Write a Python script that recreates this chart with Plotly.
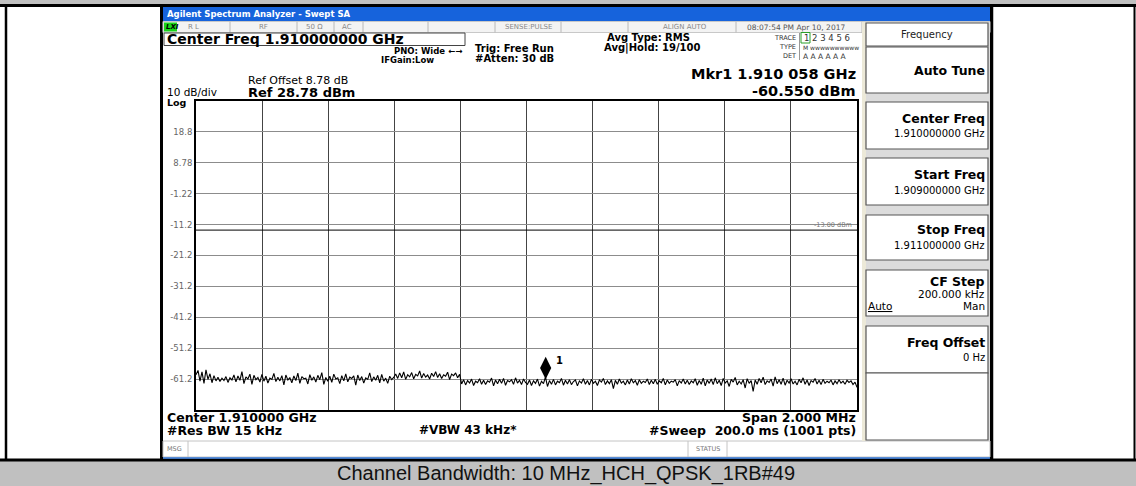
import numpy as np
import plotly.graph_objects as go

W, H = 1136, 486

# ---------------- data ----------------
start_ghz = 1.909
stop_ghz = 1.911
ref_level = 28.78
db_per_div = 10
n_div = 10
limit_dbm = -13.0
mkr_freq = 1.910058
mkr_level = -60.55

ytick_vals = [18.78, 8.78, -1.22, -11.22, -21.22, -31.22, -41.22, -51.22, -61.22]
ytick_text = ["18.8", "8.78", "-1.22", "-11.2", "-21.2", "-31.2", "-41.2", "-51.2", "-61.2"]

trace_seg_a = [-59.8, -58.4, -61.9, -58.9, -62.6, -58.2, -61.3, -59.5, -62.4, -60.1,
               -61.8, -60.6, -62.0, -60.9, -61.7, -60.4, -62.3, -60.8, -61.5, -59.9,
               -62.1, -60.2, -61.6, -58.8, -62.7, -60.5, -61.2, -59.6, -62.9, -60.0,
               -61.4, -60.7, -62.2, -59.7, -61.9, -60.3, -62.5, -60.9, -61.3, -59.4,
               -62.0, -60.6, -61.8, -60.1, -63.1, -59.9, -61.5, -60.8, -62.4, -60.2,
               -61.7, -59.3, -62.6, -60.4, -61.1, -60.9, -62.8, -59.8, -61.6, -60.5,
               -62.2, -60.0, -61.4, -59.1, -62.9, -60.7, -61.9, -60.3, -62.3, -59.6,
               -61.2, -60.8, -62.7, -60.1, -61.8, -59.5, -62.1, -60.6, -61.0, -60.2,
               -63.2, -59.9, -61.7, -60.4, -62.5, -60.8, -61.3, -59.2, -62.0, -60.5,
               -61.6, -60.0, -62.4, -59.7, -61.9, -60.9, -62.6, -60.3, -61.4, -60.7]
trace_seg_b1 = [-59.6, -61.0, -59.2, -60.8, -58.9, -61.3, -59.8, -60.5, -59.1, -61.1,
                -59.7, -60.2, -58.6, -60.9, -59.4, -60.6, -59.9, -61.2, -59.3, -60.4,
                -58.8, -60.7, -59.5, -61.0, -59.8, -60.3, -59.0, -61.4, -59.6, -60.1,
                -59.2, -60.8, -59.7]
trace_seg_b2 = [-62.8, -61.4, -63.1, -61.7, -62.5, -61.2, -63.3, -61.9, -62.4, -61.1,
                -62.9, -61.6, -63.0, -61.8, -62.2, -60.9, -63.4, -61.5, -62.7, -61.3,
                -62.6, -61.0, -63.2, -61.7, -62.1, -61.4, -62.9, -60.8, -62.5, -61.6,
                -63.0, -61.2, -62.3]
trace_seg_c = [-62.9, -61.5, -63.3, -61.8, -62.6, -61.2, -63.5, -61.9, -62.7, -60.55,
               -63.6, -61.7, -62.9, -61.3, -63.1, -61.9, -62.4, -61.0, -63.2, -61.6,
               -62.8, -61.4, -63.0, -62.0, -61.5, -63.4, -61.8, -62.5, -61.1, -62.9,
               -61.7, -63.1, -61.3, -62.6, -61.9, -63.3, -61.5, -62.2, -61.0, -63.0,
               -61.8, -62.7, -61.4, -64.3, -61.6, -62.9, -61.2, -62.5, -61.9, -63.1,
               -61.5, -62.8, -61.1, -62.4, -61.7, -63.2, -61.4, -62.6, -61.9, -62.3,
               -61.2, -63.0, -61.6, -62.7, -61.3, -62.9, -61.8, -62.4, -61.0, -63.1,
               -61.5, -62.6, -61.9, -62.2, -61.4, -63.4, -61.7, -62.5, -61.2, -62.8,
               -61.6, -63.0, -61.8]
trace_seg_d = [-62.4, -61.1, -63.2, -61.7, -62.9, -60.9, -63.4, -61.5, -62.6, -61.2,
               -63.0, -60.8, -62.7, -61.6, -63.3, -61.0, -62.5, -61.8, -63.6, -61.3,
               -62.2, -60.7, -63.1, -61.9, -62.8, -61.4, -64.1, -61.1, -62.6, -61.7,
               -65.2, -61.5, -62.9, -61.0, -62.4, -60.6, -63.0, -61.8, -62.3, -61.2,
               -63.5, -60.5, -62.7, -61.4, -62.9, -60.9, -63.2, -61.6, -62.5, -61.1,
               -62.8, -61.9, -63.1, -61.3, -62.4, -60.8, -62.9, -61.5, -63.3, -61.7,
               -62.2, -61.0, -62.8, -61.6, -63.0, -61.3, -62.6, -61.9, -62.4, -61.5,
               -63.1, -61.8, -62.7, -61.4, -62.5, -61.9, -62.9, -61.6, -62.3, -61.8,
               -63.0, -62.2, -63.9]

trace_dbm = trace_seg_a + trace_seg_b1 + trace_seg_b2 + trace_seg_c + trace_seg_d
freq_ghz = np.linspace(start_ghz, stop_ghz, len(trace_dbm))

# ---------------- layout helpers ----------------
PX0, PX1 = 196, 857     # graticule pixel box
PY0, PY1 = 101, 410
DB_PER_PX = (db_per_div * n_div) / (PY1 - PY0)


def X(px):
    return px / W


def Y(py):
    return 1 - py / H


shapes = []
annos = []


def rect(x0, y0, x1, y1, fill, line=None, lw=0):
    shapes.append(dict(type="rect", xref="paper", yref="paper",
                       x0=X(x0), x1=X(x1), y0=Y(y0), y1=Y(y1),
                       fillcolor=fill,
                       line=dict(color=line or fill, width=lw)))


def seg(x0, y0, x1, y1, color, width=1):
    shapes.append(dict(type="line", xref="paper", yref="paper",
                       x0=X(x0), x1=X(x1), y0=Y(y0), y1=Y(y1),
                       line=dict(color=color, width=width)))


def txt(x, y, s, size, bold=False, anchor="left", color="#000",
        family="DejaVu Sans"):
    annos.append(dict(xref="paper", yref="paper", x=X(x), y=Y(y),
                      text=f"<b>{s}</b>" if bold else s, showarrow=False,
                      xanchor=anchor, yanchor="middle", borderpad=0,
                      font=dict(family=family, size=size, color=color)))


# outer table frame
rect(0, 0, W, 4.5, "#c0c0c0")
rect(0, 461, W, H, "#c0c0c0")
seg(0, 5.5, W, 5.5, "#000", 3)
seg(0, 460, W, 460, "#000", 3)
seg(6, 5, 6, 460, "#000", 2.5)
seg(161.5, 5, 161.5, 460, "#000", 3)
seg(991.5, 5, 991.5, 460, "#000", 3.5)
seg(1134.5, 5, 1134.5, 460, "#000", 2)

# analyzer title bar
rect(163, 7, 990, 21.5, "#1663dc")
txt(166, 14.5, "Agilent Spectrum Analyzer - Swept SA", 8.5, True, color="#fff")

# status row
rect(163, 21.5, 990, 32.5, "#f3f3f3", "#c8c8c8", 1)
for sx in [230, 297, 334, 363, 428, 495, 561, 628, 736, 862]:
    seg(sx, 21.5, sx, 32.5, "#b8b8b8", 1)
rect(164, 22.5, 177, 31.5, "#19d419")
txt(165, 27, "<i>LXI</i>", 7, True)
for cx, s in [(193, "R L"), (263, "RF"), (314, "50 Ω"), (347, "AC"),
              (528, "SENSE:PULSE"), (685, "ALIGN AUTO")]:
    txt(cx, 27, s, 7, anchor="center", color="#888")
txt(796, 27, "08:07:54 PM Apr 10, 2017", 7.5, anchor="center", color="#555")

# header
rect(164, 33, 465, 45.5, "#fff", "#444", 1)
txt(166, 39.5, "Center Freq 1.910000000 GHz", 14, True)
txt(463, 51, "PNO: Wide ←→", 8.5, True, anchor="right")
txt(380, 60.5, "IFGain:Low", 8.5, True)
txt(474, 48, "Trig: Free Run", 10, True)
txt(474, 59, "#Atten: 30 dB", 10, True)
txt(606, 37.5, "Avg Type: RMS", 10, True)
txt(603, 48, "Avg|Hold: 19/100", 10, True)

# trace table
txt(797, 37.5, "TRACE", 6.5, anchor="right", color="#333")
txt(797, 47, "TYPE", 6.5, anchor="right", color="#333")
txt(797, 56, "DET", 6.5, anchor="right", color="#333")
seg(799.5, 33, 799.5, 60, "#999", 1)
rect(801, 32.5, 810, 43, "#fff", "#2aa02a", 1)
txt(802.5, 38, "1 2 3 4 5 6", 8.5, color="#333")
txt(801.5, 47, "M wwwwwwwwww", 6, color="#333")
txt(802, 56, "A A A A A A", 7.5, color="#333")

txt(857, 74.5, "Mkr1 1.910 058 GHz", 14.5, True, anchor="right")
txt(857, 90.5, "-60.550 dBm", 14.5, True, anchor="right")
txt(247, 81, "Ref Offset 8.78 dB", 11)
txt(247, 93, "Ref 28.78 dBm", 13, True)
txt(166, 92, "10 dB/div", 10.5)
txt(166, 102, "Log", 9.5, True)

# footer of display
txt(166, 417, "Center 1.910000 GHz", 12.5, True)
txt(166, 430, "#Res BW 15 kHz", 12.5, True)
txt(418, 430, "#VBW 43 kHz*", 12, True)
txt(857, 417, "Span 2.000 MHz", 12.5, True, anchor="right")
txt(857, 430, "#Sweep  200.0 ms (1001 pts)", 12.5, True, anchor="right")

# status bar
rect(163, 441, 990, 457, "#fff", "#c4c4c4", 1)
seg(188, 441, 188, 457, "#c4c4c4", 1)
seg(688, 441, 688, 457, "#c4c4c4", 1)
seg(727, 441, 727, 457, "#c4c4c4", 1)
txt(166, 448.5, "MSG", 6.5, color="#777")
txt(707.5, 449, "STATUS", 6.5, anchor="center", color="#777")
seg(163, 458, 990, 458, "#2a6fd0", 1.5)

# softkey panel
rect(862, 22, 990, 441, "#dcdcdc")
rect(862, 22, 866, 441, "#ece9d8")
keys = [(23, 46), (47, 93), (102, 149), (158, 205), (215, 260),
        (270, 316), (326, 373), (373, 440)]
for ky0, ky1 in keys:
    rect(866, ky0, 988, ky1, "#fff", "#555", 1.2)
txt(927, 34.5, "Frequency", 10, anchor="center", color="#222")
txt(986, 70, "Auto Tune", 12.5, True, anchor="right")
txt(986, 118, "Center Freq", 12.5, True, anchor="right")
txt(986, 134, "1.910000000 GHz", 10, anchor="right")
txt(986, 174, "Start Freq", 12.5, True, anchor="right")
txt(986, 190, "1.909000000 GHz", 10, anchor="right")
txt(986, 230, "Stop Freq", 12.5, True, anchor="right")
txt(986, 245, "1.911000000 GHz", 10, anchor="right")
txt(986, 281, "CF Step", 12.5, True, anchor="right")
txt(986, 293.5, "200.000 kHz", 10.5, anchor="right")
txt(867, 306, "<u>Auto</u>", 10.5)
txt(986, 306, "Man", 10.5, anchor="right")
txt(986, 342, "Freq Offset", 12.5, True, anchor="right")
txt(986, 357, "0 Hz", 10, anchor="right")

# caption
txt(566, 473.5, "Channel Bandwidth: 10 MHz_HCH_QPSK_1RB#49", 20,
    anchor="center", color="#111", family="Liberation Sans")

# limit line (data coords)
shapes.append(dict(type="line", xref="x domain", yref="y", x0=0, x1=1,
                   y0=limit_dbm, y1=limit_dbm, line=dict(color="#000", width=1)))
annos.append(dict(xref="x domain", yref="y", x=0.995, y=limit_dbm,
                  text="-13.00 dBm", showarrow=False, xanchor="right",
                  yanchor="bottom", yshift=-1,
                  font=dict(family="DejaVu Sans", size=6.5, color="#777")))

# marker label
annos.append(dict(xref="x", yref="y", x=mkr_freq, y=mkr_level,
                  text="<b>1</b>", showarrow=False, xanchor="left",
                  yanchor="middle", xshift=8, yshift=17,
                  font=dict(family="DejaVu Sans", size=10, color="#000")))

fig = go.Figure()
fig.add_trace(go.Scatter(x=freq_ghz, y=trace_dbm, mode="lines",
                         line=dict(color="#000", width=1.1),
                         hoverinfo="skip", showlegend=False))
fig.add_trace(go.Scatter(x=[mkr_freq], y=[mkr_level + 9 * DB_PER_PX],
                         mode="markers",
                         marker=dict(symbol="diamond-tall", size=16, color="#000"),
                         hoverinfo="skip", showlegend=False))

fig.update_layout(
    width=W, height=H, autosize=False,
    margin=dict(l=0, r=0, t=0, b=0),
    paper_bgcolor="#fff", plot_bgcolor="#fff",
    shapes=shapes, annotations=annos, showlegend=False,
    xaxis=dict(domain=[X(PX0), X(PX1)], range=[start_ghz, stop_ghz],
               tick0=start_ghz, dtick=(stop_ghz - start_ghz) / n_div,
               showgrid=True, gridcolor="#444", gridwidth=1,
               showticklabels=False, ticks="", zeroline=False,
               showline=True, mirror=True, linecolor="#000", linewidth=2,
               automargin=False, fixedrange=True),
    yaxis=dict(domain=[Y(PY1), Y(PY0)],
               range=[ref_level - db_per_div * n_div, ref_level],
               tickmode="array", tickvals=ytick_vals, ticktext=ytick_text,
               showgrid=True, gridcolor="#8c8c8c", gridwidth=1,
               ticks="", zeroline=False,
               tickfont=dict(family="DejaVu Sans", size=8.5, color="#666"),
               showline=True, mirror=True, linecolor="#000", linewidth=2,
               automargin=False, fixedrange=True),
)

fig.write_html(
    "out.html",
    config={"displayModeBar": False},
    post_script="document.body.style.margin='0px';document.body.style.overflow='hidden';",
)
